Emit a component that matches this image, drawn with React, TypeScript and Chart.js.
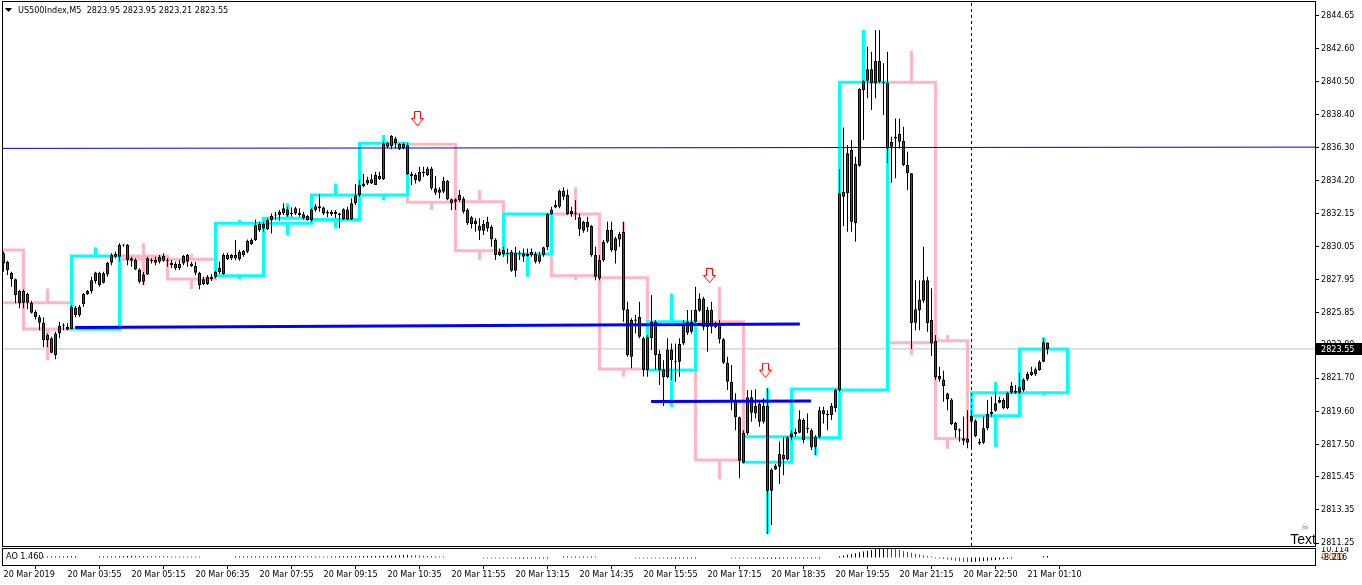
import { useEffect, useRef } from "react";
import { Chart, registerables } from "chart.js";
Chart.register(...registerables);

const FONT = "'DejaVu Sans Condensed', 'DejaVu Sans', sans-serif";

// ---------- M5 candles (bar index 0 = 20 Mar 02:35) ----------
const opens = [
  2829.61, 2829.07, 2828.38, 2827.96, 2827.22, 2826.48, 2827.03, 2826.48, 2825.89, 2825.55,
  2825.21, 2824.43, 2824.22, 2823.16, 2824.53, 2825.0, 2824.95, 2824.81, 2826.18, 2825.7,
  2826.39, 2827.03, 2827.22, 2827.85, 2828.38, 2827.74, 2828.27, 2829.01, 2829.39, 2829.39,
  2830.13, 2830.13, 2829.29, 2829.18, 2828.59, 2827.81, 2828.27, 2829.14, 2829.18, 2829.07,
  2829.14, 2829.14, 2829.01, 2828.93, 2828.66, 2828.97, 2829.5, 2828.97, 2828.8, 2828.38,
  2827.96, 2827.66, 2828.12, 2828.12, 2828.42, 2828.3, 2829.5, 2829.5, 2829.5, 2829.23,
  2829.5, 2829.71, 2830.2, 2830.45, 2831.08, 2831.46, 2831.13, 2831.72, 2832.03, 2832.03,
  2832.16, 2832.39, 2832.18, 2832.14, 2832.18, 2832.08, 2831.97, 2831.72, 2832.35, 2832.6,
  2832.52, 2832.24, 2832.24, 2832.24, 2832.14, 2831.78, 2832.39, 2831.76, 2832.78, 2833.3,
  2833.87, 2834.04, 2834.04, 2833.94, 2834.51, 2834.3, 2836.62, 2836.41, 2836.89, 2836.53,
  2836.26, 2836.47, 2834.63, 2834.57, 2834.21, 2834.78, 2834.57, 2834.99, 2833.73, 2833.66,
  2833.51, 2834.21, 2833.03, 2832.88, 2832.98, 2833.09, 2832.35, 2831.46, 2831.67, 2831.34,
  2831.04, 2831.19, 2831.29, 2830.49, 2829.5, 2829.56, 2829.65, 2829.71, 2828.51, 2829.65,
  2829.61, 2829.56, 2829.71, 2829.56, 2829.07, 2829.5, 2829.99, 2832.1, 2832.52, 2832.56,
  2833.57, 2833.3, 2832.29, 2832.18, 2831.89, 2831.04, 2831.61, 2831.34, 2829.5, 2828.02,
  2829.18, 2830.34, 2831.08, 2829.77, 2830.49, 2830.98, 2826.06, 2823.06, 2825.42, 2825.59,
  2824.22, 2822.21, 2824.22, 2825.27, 2823.23, 2822.25, 2821.75, 2823.52, 2822.74, 2822.74,
  2823.9, 2825.27, 2824.64, 2825.27, 2825.97, 2826.75, 2824.92, 2826.01, 2825.0, 2825.17,
  2824.16, 2822.67, 2821.47, 2820.27, 2819.22, 2816.34, 2818.2, 2820.48, 2819.46, 2820.06,
  2818.93, 2819.93, 2814.56, 2815.91, 2816.08, 2816.82, 2816.55, 2817.95, 2818.16, 2818.24,
  2819.04, 2818.51, 2818.4, 2817.35, 2817.98, 2819.67, 2819.42, 2819.36, 2819.8, 2820.94,
  2833.51, 2833.41, 2836.15, 2831.51, 2835.16, 2839.96, 2840.55, 2841.27, 2840.38, 2841.8,
  2840.38, 2840.42, 2836.36, 2836.89, 2837.17, 2836.75, 2835.21, 2834.68, 2825.21, 2826.01,
  2826.6, 2827.91, 2825.38, 2824.07, 2821.83, 2821.62, 2820.73, 2820.35, 2818.87, 2818.45,
  2817.73, 2817.6, 2819.3, 2819.0, 2817.67, 2817.6, 2818.52, 2819.42, 2819.63, 2820.14,
  2820.31, 2819.79, 2820.77, 2820.9, 2820.77, 2820.94, 2821.62, 2821.89, 2821.96, 2822.21,
  2822.74, 2823.95,
];
const highs = [
  2829.71, 2829.14, 2828.44, 2828.02, 2827.28, 2827.32, 2827.11, 2826.6, 2826.01, 2825.7,
  2825.55, 2824.53, 2824.32, 2824.64, 2825.27, 2825.17, 2825.17, 2826.33, 2826.27, 2826.33,
  2827.11, 2827.28, 2828.12, 2828.44, 2828.44, 2828.44, 2829.07, 2829.61, 2829.71, 2830.24,
  2830.2, 2830.2, 2829.39, 2829.29, 2828.66, 2828.42, 2829.39, 2829.29, 2829.39, 2829.5,
  2829.61, 2829.29, 2829.18, 2829.07, 2829.18, 2829.5, 2829.56, 2829.07, 2829.06, 2828.44,
  2828.12, 2828.23, 2828.3, 2828.5, 2829.07, 2829.61, 2829.65, 2829.56, 2830.45, 2829.82,
  2829.82, 2830.49, 2830.56, 2831.75, 2831.61, 2831.61, 2831.83, 2832.14, 2832.24, 2832.35,
  2832.78, 2832.56, 2832.52, 2832.56, 2832.46, 2832.24, 2832.03, 2832.46, 2832.73, 2833.36,
  2832.56, 2832.35, 2832.35, 2832.35, 2832.18, 2832.46, 2832.56, 2833.09, 2834.0, 2834.25,
  2834.63, 2834.46, 2834.63, 2834.78, 2834.78, 2836.68, 2836.68, 2837.1, 2836.99, 2836.58,
  2836.62, 2836.58, 2834.78, 2834.68, 2835.1, 2835.1, 2835.1, 2835.1, 2834.51, 2833.79,
  2834.46, 2834.25, 2833.09, 2833.09, 2833.62, 2833.2, 2832.46, 2831.97, 2831.83, 2831.83,
  2831.72, 2831.93, 2831.4, 2830.56, 2829.92, 2830.03, 2829.92, 2829.82, 2830.03, 2829.77,
  2829.92, 2829.92, 2829.92, 2829.71, 2829.71, 2830.03, 2832.14, 2832.56, 2832.98, 2833.66,
  2833.79, 2833.66, 2832.56, 2832.98, 2832.14, 2831.67, 2831.93, 2831.4, 2830.03, 2829.5,
  2830.45, 2831.61, 2831.61, 2830.66, 2830.98, 2831.61, 2826.54, 2825.49, 2825.7, 2826.54,
  2824.32, 2824.43, 2826.96, 2825.38, 2823.48, 2822.84, 2824.22, 2823.9, 2823.9, 2824.22,
  2825.38, 2826.01, 2826.01, 2827.49, 2827.07, 2826.86, 2826.22, 2826.54, 2825.27, 2825.38,
  2824.22, 2823.06, 2822.53, 2820.74, 2819.26, 2818.4, 2820.94, 2820.94, 2820.99, 2820.2,
  2820.42, 2821.05, 2815.98, 2816.26, 2817.67, 2817.95, 2818.03, 2818.4, 2818.51, 2819.67,
  2819.15, 2819.46, 2818.51, 2818.09, 2819.88, 2819.88, 2819.67, 2820.12, 2821.01, 2834.95,
  2837.59, 2836.47, 2836.79, 2835.73, 2840.07, 2840.59, 2842.7, 2842.39, 2843.76, 2843.76,
  2841.65, 2842.39, 2837.0, 2838.16, 2838.16, 2837.63, 2836.05, 2834.7, 2827.91, 2827.91,
  2830.03, 2828.12, 2827.39, 2824.43, 2822.42, 2822.17, 2820.77, 2820.42, 2818.93, 2818.51,
  2819.26, 2819.67, 2819.67, 2819.09, 2817.88, 2819.26, 2820.31, 2820.52, 2820.84, 2820.52,
  2820.42, 2820.84, 2821.45, 2821.26, 2822.04, 2821.69, 2822.1, 2822.42, 2822.38, 2822.84,
  2824.22, 2823.95,
];
const lows = [
  2828.44, 2828.23, 2827.49, 2826.44, 2826.12, 2826.12, 2826.06, 2825.8, 2825.42, 2824.74,
  2823.65, 2823.65, 2823.27, 2822.89, 2824.22, 2824.74, 2824.74, 2824.79, 2825.55, 2825.58,
  2826.22, 2826.96, 2827.07, 2827.7, 2827.49, 2827.7, 2828.12, 2828.86, 2829.29, 2829.07,
  2830.03, 2828.86, 2828.76, 2828.55, 2827.7, 2827.6, 2828.23, 2828.97, 2828.86, 2828.97,
  2829.07, 2828.76, 2828.66, 2828.55, 2828.55, 2828.86, 2828.76, 2828.76, 2828.23, 2827.33,
  2827.6, 2827.6, 2827.85, 2828.02, 2828.3, 2828.23, 2829.18, 2829.18, 2829.18, 2829.14,
  2829.39, 2829.61, 2830.13, 2830.39, 2830.98, 2830.98, 2831.08, 2830.87, 2831.72, 2831.67,
  2832.03, 2831.93, 2831.93, 2832.03, 2831.93, 2831.72, 2831.67, 2831.61, 2832.24, 2832.24,
  2832.03, 2831.89, 2831.97, 2831.85, 2831.2, 2831.72, 2831.72, 2831.72, 2832.67, 2833.19,
  2833.79, 2833.94, 2834.0, 2833.94, 2834.25, 2834.25, 2836.26, 2836.2, 2836.26, 2836.15,
  2836.2, 2834.57, 2833.94, 2834.04, 2834.15, 2834.46, 2834.51, 2833.62, 2833.3, 2833.09,
  2833.41, 2832.98, 2832.35, 2832.35, 2832.88, 2832.14, 2831.4, 2831.19, 2830.98, 2830.45,
  2830.77, 2830.98, 2830.03, 2829.18, 2829.44, 2829.39, 2828.97, 2828.44, 2828.12, 2829.18,
  2829.07, 2829.39, 2829.39, 2828.97, 2828.97, 2829.39, 2829.82, 2832.03, 2832.46, 2832.46,
  2832.98, 2832.03, 2831.93, 2831.72, 2830.7, 2830.91, 2830.98, 2829.39, 2827.91, 2827.91,
  2829.07, 2830.24, 2829.71, 2828.97, 2830.03, 2825.27, 2823.06, 2822.32, 2824.53, 2824.22,
  2821.8, 2821.79, 2823.48, 2822.21, 2821.26, 2819.93, 2821.69, 2821.58, 2821.47, 2821.79,
  2823.8, 2824.43, 2824.53, 2825.17, 2825.91, 2824.74, 2823.37, 2824.53, 2824.86, 2823.9,
  2822.59, 2820.94, 2819.67, 2818.4, 2815.35, 2816.3, 2818.09, 2818.93, 2819.15, 2818.61,
  2818.83, 2811.82, 2812.39, 2815.87, 2814.99, 2815.55, 2816.5, 2817.77, 2817.98, 2818.2,
  2817.57, 2818.2, 2817.14, 2816.82, 2817.88, 2818.83, 2818.4, 2819.04, 2819.55, 2820.82,
  2831.34, 2830.98, 2830.98, 2830.34, 2835.1, 2836.79, 2839.43, 2838.69, 2839.43, 2840.38,
  2838.37, 2835.31, 2834.08, 2834.36, 2836.26, 2835.15, 2833.62, 2823.55, 2824.74, 2824.74,
  2826.48, 2824.64, 2823.1, 2821.58, 2821.47, 2820.2, 2819.67, 2818.73, 2817.95, 2817.67,
  2817.46, 2817.25, 2817.14, 2817.95, 2817.46, 2817.53, 2818.4, 2819.25, 2819.57, 2820.1,
  2819.72, 2819.72, 2820.69, 2820.69, 2820.69, 2820.84, 2821.53, 2821.83, 2821.83, 2822.17,
  2822.7, 2823.21,
];
const closes = [
  2828.97, 2828.55, 2827.96, 2826.96, 2826.44, 2827.22, 2826.48, 2825.84, 2825.55, 2825.21,
  2824.11, 2824.11, 2823.31, 2824.53, 2825.02, 2824.98, 2824.76, 2826.22, 2825.7, 2826.22,
  2827.03, 2827.22, 2827.91, 2828.4, 2827.6, 2828.34, 2829.01, 2829.5, 2829.56, 2830.13,
  2830.11, 2829.18, 2829.14, 2828.59, 2827.81, 2828.27, 2829.29, 2829.12, 2829.01, 2829.39,
  2829.44, 2829.1, 2828.86, 2828.66, 2828.93, 2829.44, 2829.07, 2828.8, 2828.38, 2827.6,
  2827.66, 2828.12, 2827.98, 2828.42, 2828.7, 2829.5, 2829.23, 2829.29, 2829.29, 2829.71,
  2829.77, 2830.41, 2830.45, 2831.4, 2831.46, 2831.19, 2831.72, 2831.97, 2832.0, 2832.24,
  2832.46, 2832.03, 2832.1, 2832.46, 2832.03, 2831.83, 2831.72, 2832.39, 2832.6, 2832.46,
  2832.14, 2832.14, 2832.1, 2832.1, 2832.03, 2832.41, 2831.76, 2832.78, 2833.3, 2833.94,
  2834.04, 2834.25, 2834.3, 2834.57, 2834.3, 2836.58, 2836.36, 2837.04, 2836.58, 2836.2,
  2836.53, 2834.63, 2834.51, 2834.25, 2834.78, 2834.68, 2834.99, 2833.73, 2833.45, 2833.45,
  2834.21, 2833.03, 2832.78, 2833.03, 2833.3, 2832.24, 2831.51, 2831.89, 2831.46, 2831.04,
  2831.46, 2831.61, 2830.49, 2829.5, 2829.71, 2829.82, 2829.56, 2828.51, 2829.65, 2829.56,
  2829.39, 2829.44, 2829.5, 2829.07, 2829.5, 2829.99, 2832.1, 2832.39, 2832.67, 2833.57,
  2833.2, 2832.1, 2832.1, 2832.1, 2831.13, 2831.61, 2831.25, 2829.5, 2828.12, 2829.18,
  2830.34, 2831.08, 2829.82, 2830.56, 2830.83, 2826.01, 2823.16, 2825.38, 2825.34, 2824.32,
  2822.21, 2824.32, 2825.27, 2823.16, 2822.21, 2821.75, 2823.52, 2822.84, 2822.7, 2823.86,
  2825.21, 2824.57, 2825.27, 2826.01, 2826.75, 2824.92, 2826.01, 2824.95, 2824.92, 2824.16,
  2822.67, 2821.47, 2820.27, 2819.22, 2816.46, 2818.24, 2820.48, 2819.5, 2819.93, 2818.93,
  2819.93, 2814.56, 2815.91, 2816.13, 2816.89, 2816.55, 2817.95, 2818.2, 2818.3, 2819.09,
  2817.77, 2818.48, 2817.31, 2817.98, 2819.67, 2819.42, 2819.36, 2819.93, 2820.94, 2833.41,
  2833.2, 2835.95, 2831.61, 2835.27, 2840.02, 2840.53, 2841.27, 2840.38, 2841.8, 2840.48,
  2840.42, 2836.26, 2836.68, 2837.0, 2836.68, 2835.21, 2834.68, 2825.17, 2826.06, 2826.69,
  2827.91, 2825.17, 2823.9, 2821.75, 2821.62, 2821.2, 2820.35, 2818.79, 2818.4, 2818.36,
  2817.88, 2817.88, 2818.93, 2818.03, 2817.56, 2818.52, 2819.42, 2819.57, 2820.1, 2820.31,
  2819.79, 2820.77, 2821.2, 2820.77, 2821.15, 2821.62, 2821.96, 2822.1, 2822.26, 2822.74,
  2823.97, 2823.55,
];

// ---------- H1 candles drawn as boxes (bar indices of hour start / end / wick) ----------
const hourStart = [-7, 5, 17, 29, 41, 53, 65, 77, 89, 101, 113, 125, 137, 149, 161, 173, 185, 197, 209, 221, 233, 242, 254];
const hourEnd = [5, 17, 29, 41, 53, 65, 77, 89, 101, 113, 125, 137, 149, 161, 173, 185, 197, 209, 221, 233, 241, 254, 266];
const hourWickAt = [-1, 11, 23, 35, 47, 59, 71, 83, 95, 107, 119, 131, 143, 155, 167, 179, 191, 203, 215, 227, 236, 248, 260];
const hourOpen = [2829.82, 2826.48, 2824.81, 2829.44, 2829.23, 2828.19, 2831.51, 2831.76, 2833.3, 2836.52, 2832.88, 2829.56, 2832.1, 2828.06, 2822.21, 2825.27, 2816.36, 2817.92, 2820.94, 2840.45, 2824.07, 2819.32, 2820.77];
const hourHigh = [2829.82, 2827.39, 2829.99, 2830.24, 2829.56, 2831.74, 2832.78, 2834.04, 2837.1, 2836.62, 2833.62, 2832.14, 2833.79, 2831.61, 2827.07, 2827.49, 2821.05, 2821.05, 2843.76, 2842.45, 2824.43, 2821.47, 2824.29];
const hourLow = [2826.48, 2822.84, 2824.75, 2827.6, 2827.33, 2827.98, 2830.77, 2831.19, 2832.98, 2832.35, 2829.18, 2828.12, 2827.91, 2821.79, 2819.88, 2815.29, 2811.82, 2816.82, 2820.82, 2823.16, 2817.2, 2817.35, 2820.63];
const hourClose = [2826.48, 2824.81, 2829.44, 2829.23, 2827.98, 2831.51, 2831.83, 2833.3, 2836.58, 2832.84, 2829.77, 2832.1, 2828.19, 2822.28, 2825.27, 2816.51, 2817.99, 2821.01, 2840.45, 2823.94, 2817.88, 2820.77, 2823.55];

// ---------- Awesome Oscillator (null = nothing drawn) ----------
const aoValues: (number | null)[] = [
  null, null, null, null, null, null, null, null, null, null,
  0.5, 0.6, 0.7, 0.8, 0.9, 1.0, 1.1, 1.2, 1.3,
  null, null, null, null, null,
  0.6, 0.7, 0.8, 0.9, 1.0, 1.1, 1.2, 1.4, 1.8,
  1.7, 1.6, 1.5, 1.4, 1.3, 1.25, 1.2, 1.15, 1.1, 1.05, 1.0, 0.95, 0.9, 0.85, 0.8, 0.75, 0.7,
  null, null, null, null, null, null, null, null,
  0.6, 0.65, 0.7, 0.75, 0.8, 0.85, 0.9, 0.95, 1.0, 1.05, 1.1, 1.15, 1.2, 1.25, 1.3, 1.35,
  1.3, 1.25, 1.2, 1.15, 1.1, 1.05, 1.0, 0.95,
  1.0, 1.05, 1.1, 1.15, 1.2, 1.25, 1.3, 1.35, 1.4, 1.45, 1.5, 1.55, 1.6, 1.65, 1.7,
  1.9, 2.1, 2.3, 2.5, 2.6,
  2.4, 2.2, 2.0, 1.8, 1.6, 1.4, 1.2, 1.0, 0.8,
  null, null, null, null, null, null, null, null, null,
  -0.6, -0.7, -0.8, -0.9, -1.0, -1.1, -1.2, -1.3, -1.4, -1.5,
  -1.4, -1.3, -1.2, -1.1, -1.0, -0.9, -0.8,
  null, null, null,
  0.8, 0.9, 0.85, 0.95, 0.9, 1.0, 0.95, 1.05, 1.0,
  null, null, null, null, null, null, null, null, null,
  -0.6, -0.7, -0.8, -0.9, -1.0, -1.1, -1.2, -1.3, -1.4, -1.5,
  -1.4, -1.3, -1.2, -1.1, -1.0, -0.9,
  null, null, null, null, null, null, null, null,
  -0.8, -0.9, -1.0, -1.1, -1.2, -1.3, -1.4, -1.5, -1.6, -1.7,
  -1.6, -1.5, -1.4, -1.3, -1.2,
  -1.1, -1.0, -1.05, -0.95, -1.0, -0.9, -0.95, -0.85,
  null, null, null, null,
  1.2, 2.0, 2.8, 3.6, 4.5, 5.4, 6.3, 7.2, 8.0, 8.8, 9.4, 9.8,
  9.6, 9.3, 8.7, 8.0, 7.0, 6.0, 5.0, 4.0, 3.0,
  2.2, 1.5, 0.9,
  -0.6, -1.2, -1.8, -2.4, -3.0, -3.6, -4.2, -4.8, -5.2,
  -5.0, -4.7, -4.4, -4.0, -3.6, -3.2, -2.8, -2.4, -2.0, -1.6, -1.2,
  null, null, null, null, null, null, null,
  1.2, 1.46,
];
const aoMax = 10.114;
const aoMin = -8.216;
const aoLast = 1.46;

// ---------- axes ----------
const priceTicks = [2844.65, 2842.6, 2840.5, 2838.4, 2836.3, 2834.2, 2832.15, 2830.05, 2827.95, 2825.85, 2823.8, 2821.7, 2819.6, 2817.5, 2815.45, 2813.35, 2811.25];
const timeTickBars = [0, 16, 32, 48, 64, 80, 96, 112, 128, 144, 160, 176, 192, 208, 224, 240, 256];
const timeTickLabels = ["20 Mar 2019", "20 Mar 03:55", "20 Mar 05:15", "20 Mar 06:35", "20 Mar 07:55", "20 Mar 09:15", "20 Mar 10:35", "20 Mar 11:55", "20 Mar 13:15", "20 Mar 14:35", "20 Mar 15:55", "20 Mar 17:15", "20 Mar 18:35", "20 Mar 19:55", "20 Mar 21:15", "20 Mar 22:50", "21 Mar 01:10"];

// ---------- objects ----------
const resistBars = [-1, 328];
const resistPrices = [2836.26, 2836.34];
const support1Bars = [17.9, 199.1];
const support1Prices = [2824.9, 2825.13];
const support2Bars = [161.9, 201.9];
const support2Prices = [2820.22, 2820.25];
const arrowBars = [103.625, 176.625, 190.625];
const arrowPrices = [2838.12, 2828.17, 2822.17];
const separatorBar = 242;
const lastPrice = 2823.55;
const headerText = "US500Index,M5  2823.95 2823.95 2823.21 2823.55";

const X_MIN = -0.375;
const X_MAX = 327.875;
const Y_MAX = 2845.537;
const Y_MIN = 2811.06;

const CYAN = "#00ffff";
const PINK = "#ffb6c1";
const UPC = "#008000";
const DNC = "#ff0000";

function makeArrow(): HTMLCanvasElement {
  const c = document.createElement("canvas");
  c.width = 14;
  c.height = 16;
  const g = c.getContext("2d")!;
  g.beginPath();
  g.moveTo(3.5, 0.5);
  g.lineTo(9.5, 0.5);
  g.lineTo(9.5, 7.5);
  g.lineTo(12.5, 7.5);
  g.lineTo(6.5, 14.5);
  g.lineTo(0.5, 7.5);
  g.lineTo(3.5, 7.5);
  g.closePath();
  g.fillStyle = "#ffffff";
  g.fill();
  g.strokeStyle = "#ff0000";
  g.lineWidth = 1;
  g.stroke();
  return c;
}

function boxRects(bull: boolean) {
  const pts: any[] = [];
  hourStart.forEach((s, i) => {
    const o = hourOpen[i];
    const c = hourClose[i];
    if ((c > o) !== bull) return;
    const e = hourEnd[i];
    pts.push({ x: s, y: o }, { x: s, y: c }, { x: e, y: c }, { x: e, y: o }, { x: s, y: o }, { x: s, y: null });
  });
  return pts;
}
function boxWicks(bull: boolean) {
  const pts: any[] = [];
  hourStart.forEach((_s, i) => {
    const o = hourOpen[i];
    const c = hourClose[i];
    if ((c > o) !== bull) return;
    const m = hourWickAt[i];
    const top = Math.max(o, c);
    const bot = Math.min(o, c);
    if (hourHigh[i] > top) pts.push({ x: m, y: top }, { x: m, y: hourHigh[i] }, { x: m, y: null });
    if (hourLow[i] < bot) pts.push({ x: m, y: bot }, { x: m, y: hourLow[i] }, { x: m, y: null });
  });
  return pts;
}

const lineBase = {
  type: "line" as const,
  pointRadius: 0,
  pointHoverRadius: 0,
  tension: 0,
  spanGaps: false,
  fill: false,
};

const zeroPad = (s: any) => {
  s.paddingTop = 0;
  s.paddingBottom = 0;
  s.paddingLeft = 0;
  s.paddingRight = 0;
};

export default function App() {
  const mainRef = useRef<HTMLCanvasElement>(null);
  const aoRef = useRef<HTMLCanvasElement>(null);

  useEffect(() => {
    const charts: Chart[] = [];
    const arrowImg = makeArrow();

    const mainDecor = {
      id: "mainDecor",
      afterDraw(chart: any) {
        const ctx = chart.ctx as CanvasRenderingContext2D;
        const ys = chart.scales.y;
        ctx.save();
        ctx.strokeStyle = "#000";
        ctx.lineWidth = 1;
        ctx.strokeRect(2.5, 1.5, 1313, 545);
        ctx.fillStyle = "#000";
        ctx.beginPath();
        ctx.moveTo(5, 8);
        ctx.lineTo(12, 8);
        ctx.lineTo(8.5, 12);
        ctx.closePath();
        ctx.fill();
        ctx.font = `9px ${FONT}`;
        ctx.textBaseline = "middle";
        ctx.textAlign = "left";
        ctx.fillText(headerText, 18, 11);
        const py = Math.round(ys.getPixelForValue(lastPrice));
        ctx.fillStyle = "#000";
        ctx.fillRect(1316, py - 6, 46, 12);
        ctx.fillStyle = "#fff";
        ctx.fillText(lastPrice.toFixed(2), 1321, py + 0.5);
        ctx.fillStyle = "#000";
        ctx.font = "14px 'Liberation Sans', Arial, sans-serif";
        ctx.textAlign = "right";
        ctx.textBaseline = "alphabetic";
        ctx.fillText("Text", 1316, 544);
        ctx.fillStyle = "#8a8a8a";
        ctx.font = "9px 'DejaVu Sans', sans-serif";
        ctx.textAlign = "center";
        ctx.textBaseline = "middle";
        ctx.fillText("\u2620", 1305, 528);
        ctx.restore();
      },
    };

    const wickData = opens.map((_, i) => ({ x: i, y: [lows[i], highs[i]] }));
    const bodyData = opens.map((o, i) => ({ x: i, y: [o, closes[i]] }));

    const main = new Chart(mainRef.current!, {
      type: "bar",
      data: {
        datasets: [
          {
            ...lineBase,
            data: [{ x: -1, y: lastPrice }, { x: 329, y: lastPrice }],
            borderColor: "#c0c0c0",
            borderWidth: 1,
            order: 20,
          } as any,
          {
            ...lineBase,
            data: boxRects(true),
            borderColor: CYAN,
            borderWidth: 3,
            borderJoinStyle: "miter",
            borderCapStyle: "square",
            order: 10,
          } as any,
          {
            ...lineBase,
            data: boxRects(false),
            borderColor: PINK,
            borderWidth: 3,
            borderJoinStyle: "miter",
            borderCapStyle: "square",
            order: 10,
          } as any,
          {
            ...lineBase,
            data: boxWicks(true),
            borderColor: CYAN,
            borderWidth: 3,
            borderCapStyle: "butt",
            order: 10,
          } as any,
          {
            ...lineBase,
            data: boxWicks(false),
            borderColor: PINK,
            borderWidth: 3,
            borderCapStyle: "butt",
            order: 10,
          } as any,
          {
            type: "bar",
            data: wickData,
            backgroundColor: "#000",
            borderWidth: 0,
            barPercentage: 0.25,
            categoryPercentage: 1,
            grouped: false,
            inflateAmount: 0,
            order: 3,
          } as any,
          {
            type: "bar",
            data: bodyData,
            backgroundColor: (c: any) => (closes[c.dataIndex] >= opens[c.dataIndex] ? UPC : DNC),
            borderColor: "#000",
            borderWidth: 1,
            borderSkipped: false,
            barPercentage: 0.75,
            categoryPercentage: 1,
            grouped: false,
            inflateAmount: 0,
            minBarLength: 1,
            order: 2,
          } as any,
          {
            ...lineBase,
            data: [{ x: separatorBar, y: Y_MIN }, { x: separatorBar, y: Y_MAX }],
            borderColor: "#000",
            borderWidth: 1,
            borderDash: [3, 3],
            order: 1,
          } as any,
          {
            ...lineBase,
            data: resistBars.map((b, i) => ({ x: b, y: resistPrices[i] })),
            borderColor: "#0000cd",
            borderWidth: 1,
            order: 1,
          } as any,
          {
            ...lineBase,
            data: support1Bars.map((b, i) => ({ x: b, y: support1Prices[i] })),
            borderColor: "#0000ff",
            borderWidth: 3,
            order: 1,
          } as any,
          {
            ...lineBase,
            data: support2Bars.map((b, i) => ({ x: b, y: support2Prices[i] })),
            borderColor: "#0000ff",
            borderWidth: 3,
            order: 1,
          } as any,
          {
            type: "scatter",
            data: arrowBars.map((b, i) => ({ x: b, y: arrowPrices[i] })),
            pointStyle: arrowImg,
            pointRadius: 7,
            showLine: false,
            order: 0,
          } as any,
        ],
      },
      options: {
        animation: false,
        responsive: false,
        maintainAspectRatio: false,
        devicePixelRatio: 1,
        events: [],
        layout: { autoPadding: false, padding: { left: 2, top: 2, right: 0, bottom: 1 } },
        plugins: { legend: { display: false }, tooltip: { enabled: false } },
        scales: {
          x: { type: "linear", min: X_MIN, max: X_MAX, display: false, offset: false, grid: { display: false } },
          y: {
            type: "linear",
            position: "right",
            min: Y_MIN,
            max: Y_MAX,
            afterBuildTicks: (s: any) => {
              s.ticks = priceTicks.map((v) => ({ value: v }));
            },
            afterFit: (s: any) => {
              s.width = 47;
              zeroPad(s);
            },
            ticks: {
              callback: (v: any) => Number(v).toFixed(2),
              font: { family: FONT, size: 9 },
              color: "#000",
              padding: 2,
              autoSkip: false,
            },
            grid: { drawOnChartArea: false, drawTicks: true, tickLength: 4, color: "#000" },
            border: { display: false },
          },
        },
      } as any,
      plugins: [mainDecor],
    });
    charts.push(main);

    const aoPts: any[] = [];
    const aoColors: string[] = [];
    aoValues.forEach((v, i) => {
      if (v === null) return;
      const prev = i > 0 ? aoValues[i - 1] : null;
      const next = i < aoValues.length - 1 ? aoValues[i + 1] : null;
      let rising: boolean;
      if (prev !== null && prev !== undefined) rising = v >= prev;
      else if (next !== null && next !== undefined) rising = next >= v;
      else rising = true;
      aoPts.push({ x: i, y: v });
      aoColors.push(rising ? "#000000" : "#ff0000");
    });

    const aoDecor = {
      id: "aoDecor",
      afterDraw(chart: any) {
        const ctx = chart.ctx as CanvasRenderingContext2D;
        ctx.save();
        ctx.strokeStyle = "#000";
        ctx.lineWidth = 1;
        ctx.strokeRect(2.5, 1.5, 1313, 17);
        ctx.fillStyle = "#000";
        ctx.font = `9px ${FONT}`;
        ctx.textBaseline = "middle";
        ctx.textAlign = "left";
        ctx.fillText("AO " + aoLast.toFixed(3), 6, 9.5);
        ctx.fillText(aoMax.toFixed(3), 1321, 3);
        ctx.fillStyle = "#b06020";
        ctx.fillText((0).toFixed(3), 1321, 11);
        ctx.fillStyle = "#000";
        ctx.fillText(aoMin.toFixed(3), 1321, 11);
        ctx.restore();
      },
    };

    const ao = new Chart(aoRef.current!, {
      type: "bar",
      data: {
        datasets: [
          {
            data: aoPts,
            backgroundColor: aoColors,
            borderWidth: 0,
            barPercentage: 0.25,
            categoryPercentage: 1,
            grouped: false,
            inflateAmount: 0,
            minBarLength: 1,
          } as any,
        ],
      },
      options: {
        animation: false,
        responsive: false,
        maintainAspectRatio: false,
        devicePixelRatio: 1,
        events: [],
        layout: { autoPadding: false, padding: { left: 2, top: 1, right: 0, bottom: 0 } },
        plugins: { legend: { display: false }, tooltip: { enabled: false } },
        scales: {
          x: {
            type: "linear",
            min: X_MIN,
            max: X_MAX,
            offset: false,
            position: "bottom",
            afterBuildTicks: (s: any) => {
              s.ticks = timeTickBars.map((v) => ({ value: v }));
            },
            afterFit: (s: any) => {
              s.height = 20;
              zeroPad(s);
            },
            ticks: {
              callback: (_v: any, i: number) => timeTickLabels[i],
              align: "start",
              font: { family: FONT, size: 9 },
              color: "#000",
              padding: 0,
              autoSkip: false,
              maxRotation: 0,
            },
            grid: { drawOnChartArea: false, drawTicks: true, tickLength: 4, color: "#000" },
            border: { display: false },
          },
          y: {
            type: "linear",
            position: "right",
            min: aoMin,
            max: aoMax,
            afterFit: (s: any) => {
              s.width = 47;
              zeroPad(s);
            },
            ticks: { display: false },
            grid: { display: false },
            border: { display: false },
          },
        },
      } as any,
      plugins: [aoDecor],
    });
    charts.push(ao);

    return () => charts.forEach((c) => c.destroy());
  }, []);

  return (
    <div style={{ position: "fixed", left: 0, top: 0, width: 1362, height: 585, background: "#ffffff" }}>
      <canvas ref={mainRef} width={1362} height={547} style={{ position: "absolute", left: 0, top: 0, width: 1362, height: 547 }} />
      <canvas ref={aoRef} width={1362} height={38} style={{ position: "absolute", left: 0, top: 547, width: 1362, height: 38 }} />
    </div>
  );
}
